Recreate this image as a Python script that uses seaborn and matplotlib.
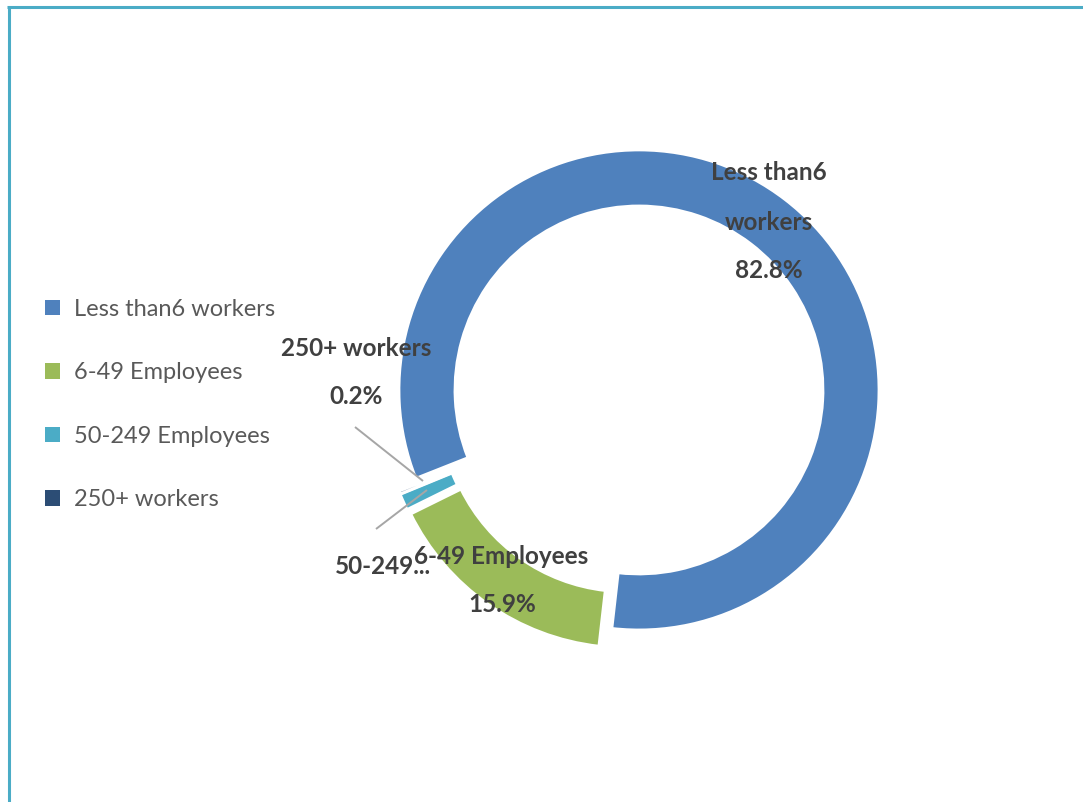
import matplotlib
matplotlib.use("Agg")
import matplotlib.pyplot as plt
from matplotlib.lines import Line2D
import seaborn as sns

# Share of enterprises by size class
categories = ["Less than6 workers", "6-49 Employees", "50-249 Employees", "250+ workers"]
shares = [82.8, 15.9, 1.1, 0.2]
short_labels = ["Less than6\n\nworkers", "6-49 Employees", "50-249...", "250+ workers"]
colors = ["#4F81BD", "#9BBB59", "#4BACC6", "#2C4D75"]

sns.set_theme(style="white")
plt.rcParams["font.family"] = ["Lato", "DejaVu Sans"]

W, H = 1083, 802
fig = plt.figure(figsize=(W / 100, H / 100), dpi=100)
ax = fig.add_axes([0, 0, 1, 1])


def py(y):
    """Convert a top-down pixel row to axis coordinates."""
    return H - y


palette = sns.color_palette(colors)
wedges, _ = ax.pie(
    shares,
    colors=palette,
    center=(632.3, py(398.7)),
    radius=240,
    explode=[11] * len(shares),
    startangle=-158.4,
    counterclock=False,
    wedgeprops=dict(width=56, edgecolor="white", linewidth=2.0),
    frame=True,
)
ax.set_xlim(0, W)
ax.set_ylim(0, H)
ax.set_aspect("equal")
ax.set_axis_off()

label_color = "#404040"
lab_kw = dict(ha="center", va="center", fontsize=17.5, fontweight="bold", color=label_color)


def pct(v):
    return f"{v:.1f}%"


# Data labels
ax.text(769, py(173), "Less than6", **lab_kw)
ax.text(769, py(222), "workers", **lab_kw)
ax.text(769, py(270), pct(shares[0]), **lab_kw)

ax.text(383, py(567), short_labels[2], **lab_kw)
ax.text(501, py(556), short_labels[1], **lab_kw)
ax.text(502, py(604), pct(shares[1]), **lab_kw)

ax.text(356, py(349), short_labels[3], **lab_kw)
ax.text(356, py(397), pct(shares[3]), **lab_kw)

# Leader lines
lead_kw = dict(color="#A6A6A6", lw=1.4, solid_capstyle="butt")
ax.plot([355, 423], [py(427), py(481)], **lead_kw)
ax.plot([376, 427], [py(529), py(490)], **lead_kw)

# Legend
leg = ax.legend(
    wedges,
    categories,
    loc="upper left",
    bbox_to_anchor=(33 / W, 1 - 287 / H),
    frameon=False,
    fontsize=17,
    handlelength=0.65,
    handleheight=0.65,
    handletextpad=0.6,
    labelspacing=1.8,
    borderpad=0,
)
for t in leg.get_texts():
    t.set_color("#595959")
for h in leg.legend_handles:
    h.set_edgecolor("none")

# Frame accent lines
border = "#4BACC6"
fig.add_artist(Line2D([7 / W, 1], [1 - 7 / H, 1 - 7 / H], color=border, lw=2.2,
                      solid_capstyle="butt", transform=fig.transFigure))
fig.add_artist(Line2D([8.5 / W, 8.5 / W], [0, 1 - 6 / H], color=border, lw=2.2,
                      solid_capstyle="butt", transform=fig.transFigure))

fig.savefig("out.png", dpi=100, facecolor="white")
